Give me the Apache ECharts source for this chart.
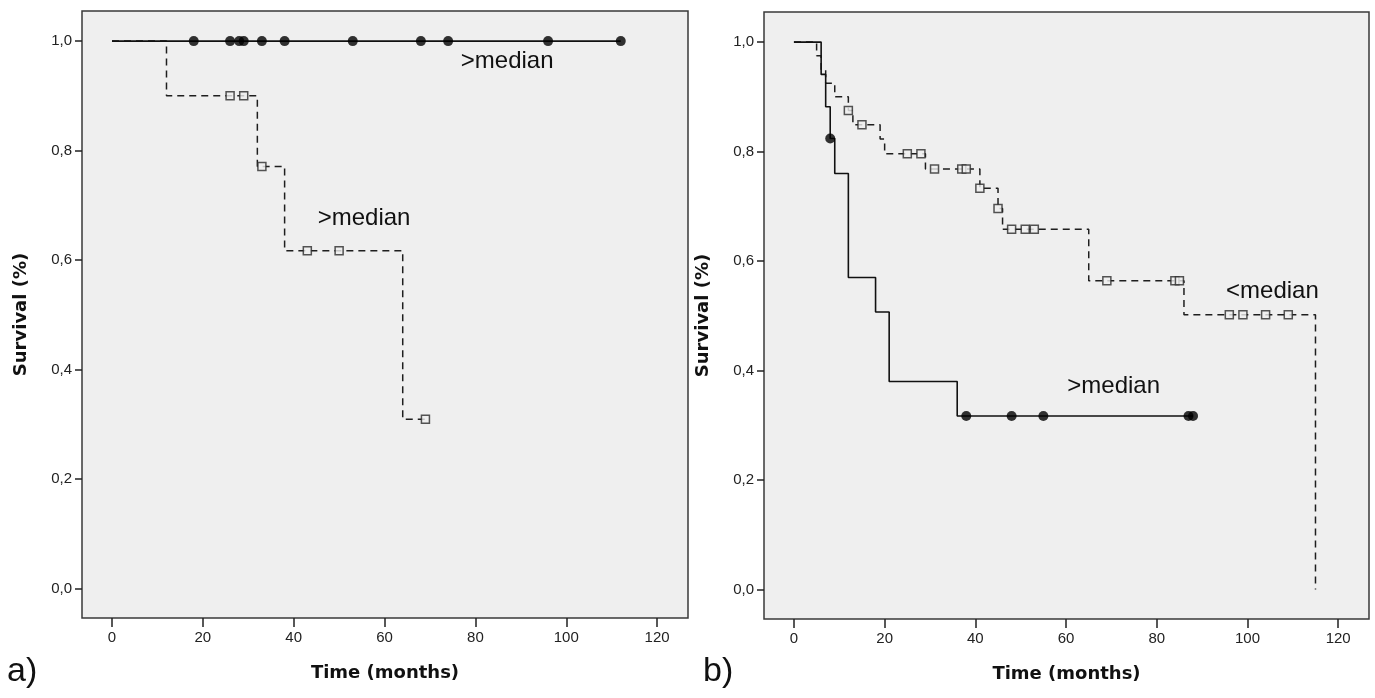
<!DOCTYPE html>
<html>
<head>
<meta charset="utf-8">
<script src="https://cdn.jsdelivr.net/npm/echarts@6/dist/echarts.min.js"></script>
<style>
html,body{margin:0;padding:0;background:#fff;}
#c{width:1375px;height:698px;}
</style>
</head>
<body>
<div id="c"></div>
<script>
// ---------- DATA ----------
// Panel a) : step points [time, survival]
var aSolidSteps = [[0, 1.0], [112, 1.0]];
var aSolidCensor = [18, 26, 28, 29, 33, 38, 53, 68, 74, 96, 112];
var aDashSteps = [[0, 1.0], [12, 0.9], [32, 0.771], [38, 0.617], [64, 0.309], [69, 0.309]];
var aDashCensor = [26, 29, 33, 43, 50, 69];

// Panel b)
var bSolidSteps = [[0, 1.0], [6, 0.941], [7, 0.882], [8, 0.824], [9, 0.760], [12, 0.570], [18, 0.507], [21, 0.380], [36, 0.317], [88, 0.317]];
var bSolidCensor = [8, 38, 48, 55, 87, 88];
var bDashSteps = [[0, 1.0], [5, 0.975], [6, 0.95], [7, 0.925], [9, 0.9], [12, 0.875], [13, 0.849], [19, 0.823], [20, 0.796], [29, 0.768], [41, 0.733], [45, 0.696], [46, 0.658], [65, 0.564], [86, 0.502], [115, 0.502], [115, 0.0]];
var bDashCensor = [12, 15, 25, 28, 31, 37, 38, 41, 45, 48, 51, 53, 69, 84, 85, 96, 99, 104, 109];

var xTicks = [0, 20, 40, 60, 80, 100, 120];
var yTicks = [0, 0.2, 0.4, 0.6, 0.8, 1.0];

// annotations [time, survival, text]
var aNotes = [[87, 0.963, '>median'], [55.5, 0.676, '>median']];
var bNotes = [[105.5, 0.545, '<median'], [70.5, 0.371, '>median']];

// ---------- helpers ----------
function survAt(steps, t) {
  var s = steps[0][1];
  for (var i = 0; i < steps.length; i++) {
    if (steps[i][0] <= t) s = steps[i][1];
  }
  return s;
}
function censorPts(steps, times) {
  return times.map(function (t) { return [t, survAt(steps, t)]; });
}

var FONT = 'Liberation Sans, Arial, sans-serif';
var BOLDFONT = 'DejaVu Sans, Liberation Sans, sans-serif';
var BG = '#efefef';

function makeX(idx) {
  return {
    gridIndex: idx, type: 'value', min: -6.6, max: 126.8, position: 'bottom',
    name: 'Time (months)', nameLocation: 'middle', nameGap: 46,
    nameTextStyle: {fontFamily: BOLDFONT, fontWeight: 'bold', fontSize: 18, color: '#111'},
    axisLine: {show: false, onZero: false},
    axisTick: {show: true, length: 9, customValues: xTicks, lineStyle: {color: '#222', width: 1.5}},
    axisLabel: {show: true, customValues: xTicks, margin: 12, fontFamily: FONT, fontSize: 15, color: '#222'},
    splitLine: {show: false}
  };
}
function makeY(idx) {
  return {
    gridIndex: idx, type: 'value', min: -0.054, max: 1.055, position: 'left',
    name: 'Survival (%)', nameLocation: 'middle', nameGap: 52, nameRotate: 90,
    nameTextStyle: {fontFamily: BOLDFONT, fontWeight: 'bold', fontSize: 18, color: '#111'},
    axisLine: {show: false, onZero: false},
    axisTick: {show: true, length: 7, customValues: yTicks, lineStyle: {color: '#222', width: 1.5}},
    axisLabel: {show: true, customValues: yTicks, margin: 10, fontFamily: FONT, fontSize: 15, color: '#222',
      formatter: function (v) { return v.toFixed(1).replace('.', ','); }},
    splitLine: {show: false}
  };
}
function stepLine(idx, data, dashed) {
  return {
    type: 'line', xAxisIndex: idx, yAxisIndex: idx, data: data, step: 'end',
    showSymbol: false, silent: true, z: dashed ? 3 : 4,
    lineStyle: dashed ? {color: '#1e1e1e', width: 1.5, type: [7, 5]} : {color: '#111', width: 1.6, type: 'solid'}
  };
}
function dots(idx, data) {
  return {type: 'scatter', xAxisIndex: idx, yAxisIndex: idx, data: data, symbol: 'circle', symbolSize: 10,
    itemStyle: {color: '#000'}, z: 6, silent: true};
}
function squares(idx, data) {
  return {type: 'scatter', xAxisIndex: idx, yAxisIndex: idx, data: data, symbol: 'rect', symbolSize: 8,
    itemStyle: {color: BG, borderColor: '#2a2a2a', borderWidth: 1.5}, z: 5, silent: true};
}
function notes(idx, data) {
  return {type: 'scatter', xAxisIndex: idx, yAxisIndex: idx, symbolSize: 0, silent: true, z: 7,
    itemStyle: {opacity: 1},
    data: data.map(function (d) { return {value: [d[0], d[1]], label: {formatter: d[2]}}; }),
    label: {show: true, position: 'inside', fontFamily: FONT, fontSize: 24, color: '#111',
      textBorderWidth: 0, opacity: 1}};
}

var chart = echarts.init(document.getElementById('c'), null, {renderer: 'canvas'});
chart.setOption({
  animation: false,
  backgroundColor: '#fff',
  grid: [
    {left: 82, top: 11, width: 606, height: 607, show: true, backgroundColor: BG, borderColor: '#3a3a3a', borderWidth: 1.5},
    {left: 764, top: 12, width: 605, height: 607, show: true, backgroundColor: BG, borderColor: '#3a3a3a', borderWidth: 1.5}
  ],
  xAxis: [makeX(0), makeX(1)],
  yAxis: [makeY(0), makeY(1)],
  graphic: [
    {type: 'text', left: 7, top: 655, style: {text: 'a)', fontFamily: FONT, fontSize: 34, fill: '#111'}},
    {type: 'text', left: 703, top: 655, style: {text: 'b)', fontFamily: FONT, fontSize: 34, fill: '#111'}}
  ],
  series: [
    stepLine(0, aDashSteps, true),
    stepLine(0, aSolidSteps, false),
    squares(0, censorPts(aDashSteps, aDashCensor)),
    dots(0, censorPts(aSolidSteps, aSolidCensor)),
    notes(0, aNotes),
    stepLine(1, bDashSteps, true),
    stepLine(1, bSolidSteps, false),
    squares(1, censorPts(bDashSteps, bDashCensor)),
    dots(1, censorPts(bSolidSteps, bSolidCensor)),
    notes(1, bNotes)
  ]
});
</script>
</body>
</html>
